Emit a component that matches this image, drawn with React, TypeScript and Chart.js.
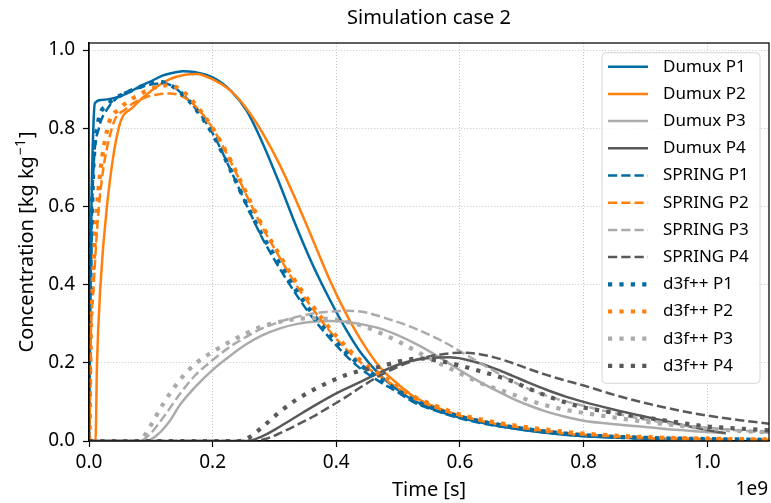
import React, { useEffect, useRef } from 'react';
import { Chart, registerables } from 'chart.js';

Chart.register(...registerables);

const FONT = '"Noto Sans", "DejaVu Sans", sans-serif';

// Time values are in units of 1e9 s (axis offset "1e9"), concentration in kg/kg
const dumuxP1T = [0, 0.002, 0.004, 0.007, 0.0095, 0.02, 0.04, 0.06, 0.08, 0.1, 0.12, 0.14, 0.152, 0.17, 0.2, 0.23, 0.255, 0.28, 0.309, 0.335, 0.362, 0.39, 0.416, 0.44, 0.47, 0.5, 0.524, 0.56, 0.6, 0.65, 0.7, 0.75, 0.8, 0.9, 1.0, 1.03];
const dumuxP1C = [0, 0.3, 0.6, 0.8, 0.864, 0.872, 0.877, 0.888, 0.905, 0.92, 0.935, 0.943, 0.946, 0.944, 0.93, 0.895, 0.845, 0.765, 0.655, 0.55, 0.45, 0.36, 0.285, 0.225, 0.17, 0.13, 0.105, 0.08, 0.06, 0.042, 0.029, 0.019, 0.012, 0.006, 0.003, 0.002];

const dumuxP2T = [0, 0.0105, 0.013, 0.0186, 0.029, 0.048, 0.072, 0.1, 0.13, 0.155, 0.174, 0.2, 0.23, 0.255, 0.28, 0.309, 0.335, 0.362, 0.39, 0.416, 0.44, 0.47, 0.5, 0.524, 0.56, 0.6, 0.65, 0.7, 0.75, 0.8, 0.9, 1.0, 1.03];
const dumuxP2C = [0, 0, 0.2, 0.4, 0.6, 0.8, 0.855, 0.895, 0.925, 0.937, 0.939, 0.925, 0.895, 0.85, 0.79, 0.705, 0.615, 0.515, 0.41, 0.325, 0.258, 0.19, 0.145, 0.115, 0.087, 0.065, 0.046, 0.032, 0.022, 0.015, 0.007, 0.003, 0.002];

const springP1T = [0, 0.001, 0.003, 0.005, 0.016, 0.03, 0.056, 0.08, 0.1, 0.12, 0.135, 0.147, 0.17, 0.2, 0.23, 0.255, 0.28, 0.309, 0.335, 0.362, 0.39, 0.416, 0.44, 0.47, 0.5, 0.524, 0.56, 0.6, 0.65, 0.7, 0.75, 0.8, 0.9, 1.0, 1.1];
const springP1C = [0, 0.05, 0.3, 0.6, 0.8, 0.85, 0.889, 0.903, 0.912, 0.915, 0.908, 0.893, 0.855, 0.787, 0.69, 0.603, 0.52, 0.44, 0.375, 0.315, 0.262, 0.218, 0.184, 0.152, 0.124, 0.1, 0.078, 0.058, 0.041, 0.029, 0.02, 0.013, 0.007, 0.004, 0.002];

const springP2T = [0, 0.001, 0.002, 0.0077, 0.016, 0.037, 0.06, 0.09, 0.11, 0.13, 0.15, 0.17, 0.2, 0.23, 0.255, 0.28, 0.309, 0.33, 0.362, 0.39, 0.416, 0.44, 0.47, 0.5, 0.524, 0.56, 0.6, 0.65, 0.7, 0.75, 0.8, 0.9, 1.0, 1.1];
const springP2C = [0, 0.05, 0.2, 0.4, 0.6, 0.8, 0.85, 0.878, 0.886, 0.889, 0.882, 0.86, 0.8, 0.712, 0.628, 0.548, 0.468, 0.412, 0.338, 0.28, 0.235, 0.2, 0.166, 0.135, 0.11, 0.086, 0.065, 0.047, 0.034, 0.024, 0.017, 0.009, 0.005, 0.003];

const d3fP1T = [0, 0.001, 0.003, 0.006, 0.013, 0.03, 0.064, 0.09, 0.112, 0.13, 0.147, 0.17, 0.2, 0.23, 0.255, 0.28, 0.309, 0.335, 0.362, 0.39, 0.416, 0.44, 0.47, 0.5, 0.524, 0.56, 0.6, 0.65, 0.7, 0.75, 0.8, 0.9, 1.0, 1.1];
const d3fP1C = [0, 0.1, 0.4, 0.65, 0.8, 0.86, 0.893, 0.91, 0.919, 0.912, 0.893, 0.855, 0.785, 0.69, 0.605, 0.527, 0.452, 0.385, 0.325, 0.27, 0.226, 0.193, 0.16, 0.129, 0.105, 0.082, 0.062, 0.045, 0.032, 0.022, 0.015, 0.008, 0.005, 0.003];

const d3fP2T = [0, 0.001, 0.002, 0.006, 0.013, 0.03, 0.05, 0.08, 0.105, 0.128, 0.147, 0.17, 0.2, 0.23, 0.255, 0.28, 0.309, 0.33, 0.362, 0.39, 0.416, 0.44, 0.47, 0.5, 0.524, 0.56, 0.6, 0.65, 0.7, 0.75, 0.8, 0.9, 1.0, 1.1];
const d3fP2C = [0, 0.05, 0.2, 0.4, 0.6, 0.8, 0.85, 0.885, 0.903, 0.91, 0.9, 0.865, 0.8, 0.715, 0.632, 0.552, 0.474, 0.418, 0.345, 0.287, 0.241, 0.205, 0.172, 0.14, 0.115, 0.09, 0.068, 0.05, 0.037, 0.027, 0.019, 0.01, 0.006, 0.004];

const dumuxP3T = [0, 0.093, 0.11, 0.13, 0.147, 0.17, 0.2, 0.23, 0.255, 0.28, 0.309, 0.335, 0.362, 0.39, 0.416, 0.44, 0.47, 0.5, 0.524, 0.55, 0.578, 0.605, 0.632, 0.66, 0.686, 0.71, 0.74, 0.77, 0.8, 0.85, 0.9, 0.955, 1.0, 1.03];
const dumuxP3C = [0, 0, 0.015, 0.05, 0.092, 0.135, 0.182, 0.22, 0.248, 0.27, 0.288, 0.299, 0.305, 0.307, 0.305, 0.299, 0.288, 0.27, 0.252, 0.23, 0.203, 0.176, 0.151, 0.128, 0.108, 0.092, 0.075, 0.062, 0.052, 0.043, 0.036, 0.028, 0.023, 0.02];

const springP3T = [0, 0.082, 0.1, 0.12, 0.147, 0.17, 0.2, 0.23, 0.255, 0.28, 0.309, 0.335, 0.362, 0.39, 0.42, 0.45, 0.47, 0.5, 0.524, 0.55, 0.578, 0.605, 0.632, 0.66, 0.686, 0.71, 0.74, 0.77, 0.8, 0.85, 0.9, 0.955, 1.0, 1.05, 1.1];
const springP3C = [0, 0, 0.02, 0.06, 0.12, 0.165, 0.207, 0.243, 0.267, 0.288, 0.305, 0.317, 0.326, 0.331, 0.333, 0.328, 0.319, 0.304, 0.29, 0.272, 0.25, 0.225, 0.2, 0.175, 0.152, 0.134, 0.116, 0.102, 0.09, 0.071, 0.055, 0.042, 0.034, 0.027, 0.021];

const d3fP3T = [0, 0.079, 0.088, 0.1, 0.12, 0.147, 0.17, 0.2, 0.23, 0.255, 0.28, 0.309, 0.335, 0.362, 0.39, 0.416, 0.443, 0.47, 0.5, 0.524, 0.55, 0.578, 0.605, 0.632, 0.66, 0.686, 0.71, 0.74, 0.77, 0.8, 0.85, 0.9, 0.95, 1.0, 1.05, 1.1];
const d3fP3C = [0, 0, 0.01, 0.04, 0.095, 0.156, 0.195, 0.228, 0.256, 0.276, 0.293, 0.305, 0.312, 0.314, 0.312, 0.305, 0.294, 0.277, 0.255, 0.234, 0.212, 0.19, 0.169, 0.149, 0.133, 0.119, 0.105, 0.091, 0.08, 0.072, 0.06, 0.049, 0.04, 0.032, 0.026, 0.022];

const dumuxP4T = [0, 0.255, 0.28, 0.309, 0.335, 0.362, 0.4, 0.44, 0.47, 0.5, 0.524, 0.55, 0.583, 0.605, 0.632, 0.66, 0.686, 0.71, 0.74, 0.77, 0.8, 0.85, 0.9, 0.955, 1.0, 1.03];
const dumuxP4C = [0, 0, 0.012, 0.037, 0.062, 0.088, 0.122, 0.152, 0.175, 0.195, 0.206, 0.212, 0.214, 0.21, 0.199, 0.183, 0.166, 0.15, 0.131, 0.114, 0.1, 0.08, 0.062, 0.043, 0.028, 0.02];

const springP4T = [0, 0.265, 0.285, 0.309, 0.335, 0.362, 0.39, 0.416, 0.44, 0.47, 0.5, 0.524, 0.55, 0.578, 0.6, 0.632, 0.66, 0.686, 0.71, 0.74, 0.77, 0.8, 0.85, 0.9, 0.955, 1.0, 1.05, 1.1];
const springP4C = [0, 0, 0.005, 0.02, 0.04, 0.062, 0.088, 0.113, 0.138, 0.167, 0.19, 0.205, 0.216, 0.223, 0.226, 0.222, 0.212, 0.199, 0.185, 0.169, 0.155, 0.142, 0.118, 0.097, 0.078, 0.065, 0.054, 0.044];

const d3fP4T = [0, 0.244, 0.26, 0.28, 0.309, 0.335, 0.362, 0.39, 0.416, 0.44, 0.47, 0.5, 0.535, 0.56, 0.6, 0.632, 0.66, 0.686, 0.71, 0.74, 0.77, 0.8, 0.85, 0.9, 0.955, 1.0, 1.05, 1.1];
const d3fP4C = [0, 0, 0.01, 0.035, 0.075, 0.105, 0.13, 0.152, 0.169, 0.18, 0.19, 0.203, 0.211, 0.207, 0.193, 0.179, 0.166, 0.152, 0.135, 0.116, 0.099, 0.086, 0.072, 0.06, 0.047, 0.037, 0.032, 0.027];

const xTicksMax = 1.1;
const yTicksMax = 1.018;
const titleText = 'Simulation case 2';
const xLabel = 'Time [s]';
const yLabelMain = 'Concentration [kg kg';
const yLabelSup = '\u22121';
const yLabelEnd = ']';
const xOffsetText = '1e9';

const C1 = '#006BA4';
const C2 = '#FF800E';
const C3 = '#ABABAB';
const C4 = '#595959';

type Style = 'solid' | 'dashed' | 'dotted';

const seriesList: { label: string; t: number[]; c: number[]; color: string; style: Style }[] = [
  { label: 'Dumux P1', t: dumuxP1T, c: dumuxP1C, color: C1, style: 'solid' },
  { label: 'Dumux P2', t: dumuxP2T, c: dumuxP2C, color: C2, style: 'solid' },
  { label: 'Dumux P3', t: dumuxP3T, c: dumuxP3C, color: C3, style: 'solid' },
  { label: 'Dumux P4', t: dumuxP4T, c: dumuxP4C, color: C4, style: 'solid' },
  { label: 'SPRING P1', t: springP1T, c: springP1C, color: C1, style: 'dashed' },
  { label: 'SPRING P2', t: springP2T, c: springP2C, color: C2, style: 'dashed' },
  { label: 'SPRING P3', t: springP3T, c: springP3C, color: C3, style: 'dashed' },
  { label: 'SPRING P4', t: springP4T, c: springP4C, color: C4, style: 'dashed' },
  { label: 'd3f++ P1', t: d3fP1T, c: d3fP1C, color: C1, style: 'dotted' },
  { label: 'd3f++ P2', t: d3fP2T, c: d3fP2C, color: C2, style: 'dotted' },
  { label: 'd3f++ P3', t: d3fP3T, c: d3fP3C, color: C3, style: 'dotted' },
  { label: 'd3f++ P4', t: d3fP4T, c: d3fP4C, color: C4, style: 'dotted' },
];

const styleWidth = (s: Style) => (s === 'dotted' ? 4.2 : 2.5);
const styleDash = (s: Style) => (s === 'solid' ? [] : s === 'dashed' ? [9.25, 4] : [4.2, 7.2]);

const decorPlugin = {
  id: 'decor',
  afterDatasetsDraw(chart: any) {
    const { ctx, chartArea: a } = chart;
    ctx.save();
    ctx.setLineDash([]);
    ctx.strokeStyle = '#000';
    ctx.lineWidth = 1.25;
    ctx.strokeRect(a.left, a.top, a.right - a.left, a.bottom - a.top);

    // legend
    const lx = 602, ly = 52.7, lw = 158, lh = 330.6, r = 4;
    ctx.beginPath();
    ctx.moveTo(lx + r, ly);
    ctx.lineTo(lx + lw - r, ly);
    ctx.quadraticCurveTo(lx + lw, ly, lx + lw, ly + r);
    ctx.lineTo(lx + lw, ly + lh - r);
    ctx.quadraticCurveTo(lx + lw, ly + lh, lx + lw - r, ly + lh);
    ctx.lineTo(lx + r, ly + lh);
    ctx.quadraticCurveTo(lx, ly + lh, lx, ly + lh - r);
    ctx.lineTo(lx, ly + r);
    ctx.quadraticCurveTo(lx, ly, lx + r, ly);
    ctx.closePath();
    ctx.fillStyle = 'rgba(255,255,255,0.85)';
    ctx.fill();
    ctx.strokeStyle = '#d6d6d6';
    ctx.lineWidth = 1;
    ctx.stroke();

    ctx.font = `17px ${FONT}`;
    ctx.textAlign = 'left';
    ctx.textBaseline = 'middle';
    seriesList.forEach((s, i) => {
      const y = 66.7 + i * 27.2;
      ctx.beginPath();
      ctx.setLineDash(styleDash(s.style));
      ctx.lineDashOffset = 0;
      ctx.lineWidth = styleWidth(s.style);
      ctx.strokeStyle = s.color;
      ctx.lineCap = 'butt';
      ctx.moveTo(608, y);
      ctx.lineTo(648, y);
      ctx.stroke();
      ctx.setLineDash([]);
      ctx.fillStyle = '#000';
      ctx.fillText(s.label, 663, y);
    });
    ctx.restore();
  },
  afterDraw(chart: any) {
    const { ctx, chartArea: a } = chart;
    ctx.save();
    ctx.fillStyle = '#000';
    ctx.textBaseline = 'middle';
    ctx.textAlign = 'center';
    ctx.font = `20px ${FONT}`;
    const cx = (a.left + a.right) / 2;
    ctx.fillText(titleText, cx, 18);
    ctx.fillText(xLabel, cx, 490);
    ctx.font = `19px ${FONT}`;
    ctx.textAlign = 'right';
    ctx.fillText(xOffsetText, 768, 490);

    // y label with superscript (mathtext-like)
    const mainFont = `20px ${FONT}`;
    const supFont = `14px ${FONT}`;
    ctx.font = mainFont;
    const w1 = ctx.measureText(yLabelMain).width;
    const w3 = ctx.measureText(yLabelEnd).width;
    ctx.font = supFont;
    const w2 = ctx.measureText(yLabelSup).width + 2;
    const total = w1 + w2 + w3;
    ctx.translate(26, (a.top + a.bottom) / 2);
    ctx.rotate(-Math.PI / 2);
    ctx.textAlign = 'left';
    ctx.textBaseline = 'alphabetic';
    let x0 = -total / 2;
    const base = 7;
    ctx.font = mainFont;
    ctx.fillText(yLabelMain, x0, base);
    x0 += w1 + 1;
    ctx.font = supFont;
    ctx.fillText(yLabelSup, x0, base - 8);
    x0 += w2 - 1;
    ctx.font = mainFont;
    ctx.fillText(yLabelEnd, x0, base);
    ctx.restore();
  },
};

export default function App() {
  const ref = useRef<HTMLCanvasElement | null>(null);
  useEffect(() => {
    const canvas = ref.current;
    if (!canvas) return;
    const n = seriesList.length;
    const datasets = seriesList.map((s, i) => ({
      label: s.label,
      data: s.t.map((t, k) => ({ x: t, y: s.c[k] })),
      borderColor: s.color,
      backgroundColor: s.color,
      borderWidth: styleWidth(s.style),
      borderDash: styleDash(s.style),
      borderCapStyle: 'butt' as const,
      pointRadius: 0,
      fill: false,
      cubicInterpolationMode: 'monotone' as const,
      order: n - i,
    }));
    const tickFont = { family: FONT, size: 19 };
    const chart = new Chart(canvas, {
      type: 'line',
      data: { datasets },
      options: {
        animation: false,
        responsive: false,
        devicePixelRatio: 1,
        layout: { padding: { top: 43, right: 2, left: 0, bottom: 0 } },
        scales: {
          x: {
            type: 'linear',
            min: 0,
            max: xTicksMax,
            ticks: {
              stepSize: 0.2,
              includeBounds: false,
              maxRotation: 0,
              autoSkip: false,
              color: '#000',
              font: tickFont,
              padding: 4,
              callback: (v: any) => Number(v).toFixed(1),
            },
            grid: { color: '#c4c4c4', lineWidth: 1, tickColor: '#000', tickLength: 6, tickWidth: 1.2 },
            border: { display: true, color: '#000', width: 1.25, dash: [1, 2] },
            afterFit: (s: any) => { s.height = 62; },
          },
          y: {
            type: 'linear',
            min: 0,
            max: yTicksMax,
            ticks: {
              stepSize: 0.2,
              includeBounds: false,
              color: '#000',
              font: tickFont,
              padding: 8,
              callback: (v: any) => Number(v).toFixed(1),
            },
            grid: { color: '#c4c4c4', lineWidth: 1, tickColor: '#000', tickLength: 6, tickWidth: 1.2 },
            border: { display: true, color: '#000', width: 1.25, dash: [1, 2] },
            afterFit: (s: any) => { s.width = 89; },
          },
        },
        plugins: {
          legend: { display: false },
          title: { display: false },
          tooltip: { enabled: false },
        },
      },
      plugins: [decorPlugin],
    } as any);
    return () => chart.destroy();
  }, []);
  return (
    <div style={{ position: 'fixed', left: 0, top: 0, width: 771, height: 503, background: '#fff' }}>
      <canvas ref={ref} width={771} height={503} style={{ display: 'block', width: 771, height: 503 }} />
    </div>
  );
}
